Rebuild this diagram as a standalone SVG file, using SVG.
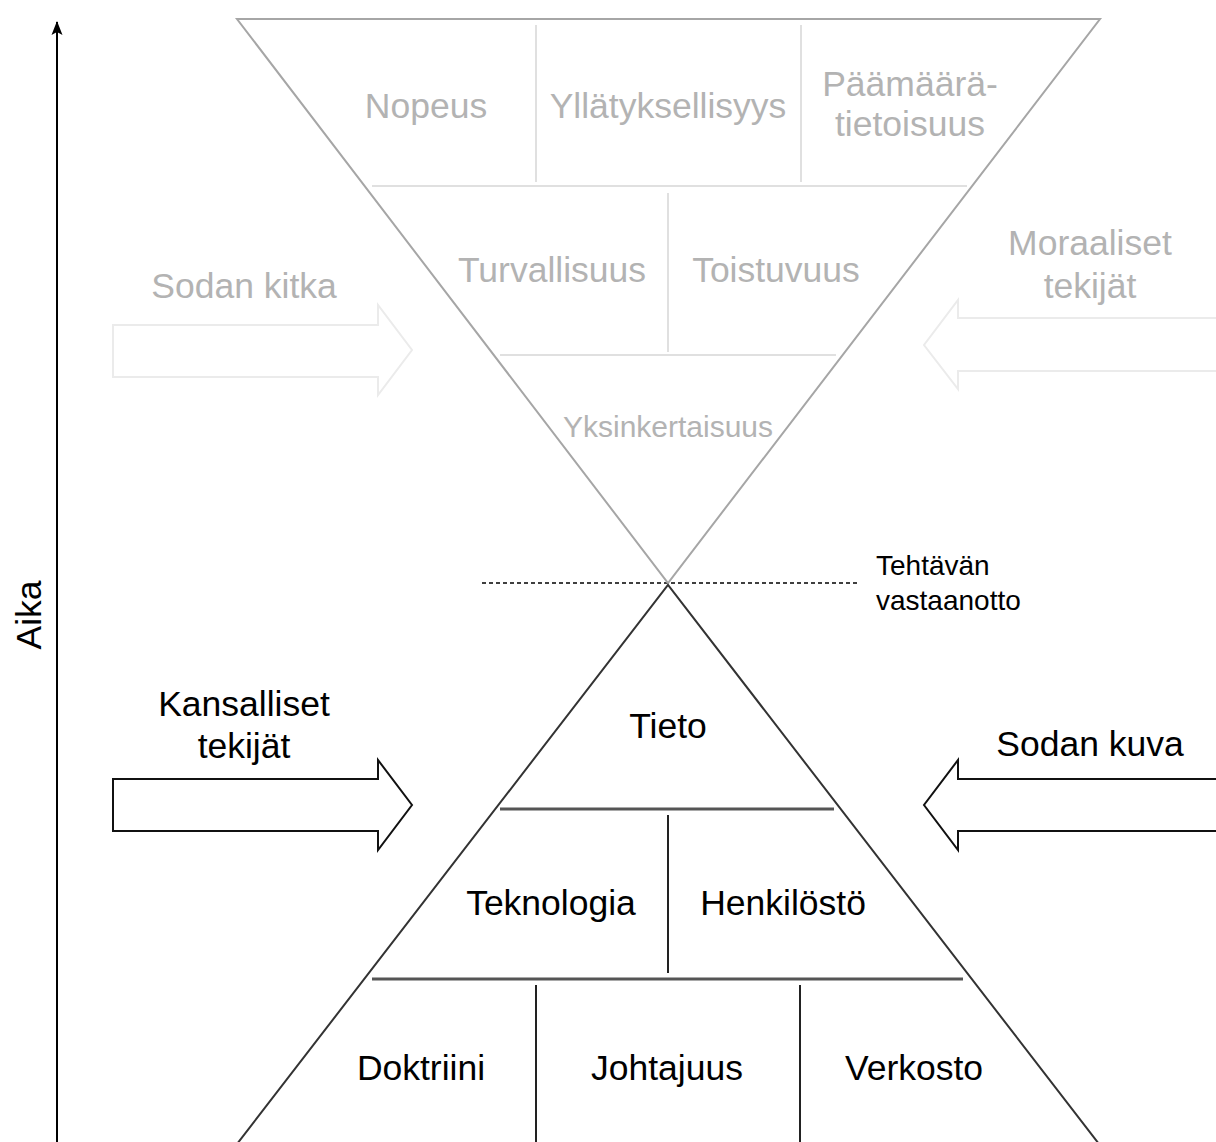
<svg xmlns="http://www.w3.org/2000/svg" width="1216" height="1142" viewBox="0 0 1216 1142">
<style>
text { font-family: "Liberation Sans", Arial, sans-serif; text-anchor: middle; dominant-baseline: central; }
.g { fill: #b3b3b3; font-size: 35.5px; }
.k { fill: #000; font-size: 35.5px; }
.gs { fill: #b3b3b3; font-size: 30px; }
.ks { fill: #000; font-size: 28px; text-anchor: start; }
.tri1 { fill: none; stroke: #a6a6a6; stroke-width: 2; }
.in1 { stroke: #e0e0e0; stroke-width: 2; fill: none; }
.tri2 { fill: none; stroke: #333; stroke-width: 2; }
.in2h { stroke: #555; stroke-width: 3; fill: none; }
.in2v { stroke: #222; stroke-width: 2; fill: none; }
.arrG { fill: #fff; stroke: #ebebeb; stroke-width: 2; }
.arrK { fill: #fff; stroke: #111; stroke-width: 2; }
</style>
<defs>
<marker id="ah" viewBox="0 0 14 12" refX="13" refY="6" markerWidth="14" markerHeight="12" markerUnits="userSpaceOnUse" orient="auto">
<path d="M0,0.5 L14,6 L0,11.5 L3,6 Z" fill="#000"/>
</marker>
</defs>
<rect width="1216" height="1142" fill="#fff"/>

<g id="connectors">
<line x1="57" y1="1142" x2="57" y2="22" stroke="#000" stroke-width="2" marker-end="url(#ah)"/>
<line x1="482" y1="583" x2="857" y2="583" stroke="#000" stroke-width="1.5" stroke-dasharray="4 3"/>
</g>

<g id="aika"><text class="k" transform="translate(29,615) rotate(-90)">Aika</text></g>

<g id="top-triangle">
<polygon class="tri1" points="237,19 1100,19 668,583"/>
<line class="in1" x1="372" y1="186" x2="967" y2="186"/>
<line class="in1" x1="536" y1="25" x2="536" y2="182"/>
<line class="in1" x1="801" y1="25" x2="801" y2="182"/>
<line class="in1" x1="500" y1="355" x2="836" y2="355"/>
<line class="in1" x1="668" y1="193" x2="668" y2="352"/>
</g>
<g id="nopeus"><text class="g" x="426" y="106">Nopeus</text></g>
<g id="yllatyksellisyys"><text class="g" x="668" y="106">Yllätyksellisyys</text></g>
<g id="paamaaratietoisuus"><text class="g" x="910" y="84">Päämäärä-</text><text class="g" x="910" y="124">tietoisuus</text></g>
<g id="turvallisuus"><text class="g" x="552" y="270">Turvallisuus</text></g>
<g id="toistuvuus"><text class="g" x="776" y="270">Toistuvuus</text></g>
<g id="yksinkertaisuus"><text class="gs" x="668" y="426">Yksinkertaisuus</text></g>

<g id="sodan-kitka">
<polygon class="arrG" points="113,325 378,325 378,305 412,350 378,395 378,377 113,377"/>
<text class="g" x="244" y="286">Sodan kitka</text>
</g>
<g id="moraaliset-tekijat">
<polygon class="arrG" points="1218,318 958,318 958,300 924,345 958,389 958,371 1218,371"/>
<text class="g" x="1090" y="243">Moraaliset</text>
<text class="g" x="1090" y="286">tekijät</text>
</g>

<g id="tehtavan-vastaanotto">
<text class="ks" x="876" y="565">Tehtävän</text>
<text class="ks" x="876" y="600">vastaanotto</text>
</g>

<g id="bottom-triangle">
<polyline class="tri2" points="237,1144 668,585 1099,1144"/>
<line class="in2h" x1="500" y1="809" x2="834" y2="809"/>
<line class="in2v" x1="668" y1="815" x2="668" y2="973"/>
<line class="in2h" x1="372" y1="979" x2="963" y2="979"/>
<line class="in2v" x1="536" y1="985" x2="536" y2="1142"/>
<line class="in2v" x1="800" y1="985" x2="800" y2="1142"/>
</g>
<g id="tieto"><text class="k" x="668" y="726">Tieto</text></g>
<g id="teknologia"><text class="k" x="551" y="903">Teknologia</text></g>
<g id="henkilosto"><text class="k" x="783" y="903">Henkilöstö</text></g>
<g id="doktriini"><text class="k" x="421" y="1068">Doktriini</text></g>
<g id="johtajuus"><text class="k" x="667" y="1068">Johtajuus</text></g>
<g id="verkosto"><text class="k" x="914" y="1068">Verkosto</text></g>

<g id="kansalliset-tekijat">
<polygon class="arrK" points="113,779 378,779 378,760 412,805 378,850 378,831 113,831"/>
<text class="k" x="244" y="704">Kansalliset</text>
<text class="k" x="244" y="746">tekijät</text>
</g>
<g id="sodan-kuva">
<polygon class="arrK" points="1218,779 958,779 958,760 924,805 958,850 958,831 1218,831"/>
<text class="k" x="1090" y="744">Sodan kuva</text>
</g>
</svg>
